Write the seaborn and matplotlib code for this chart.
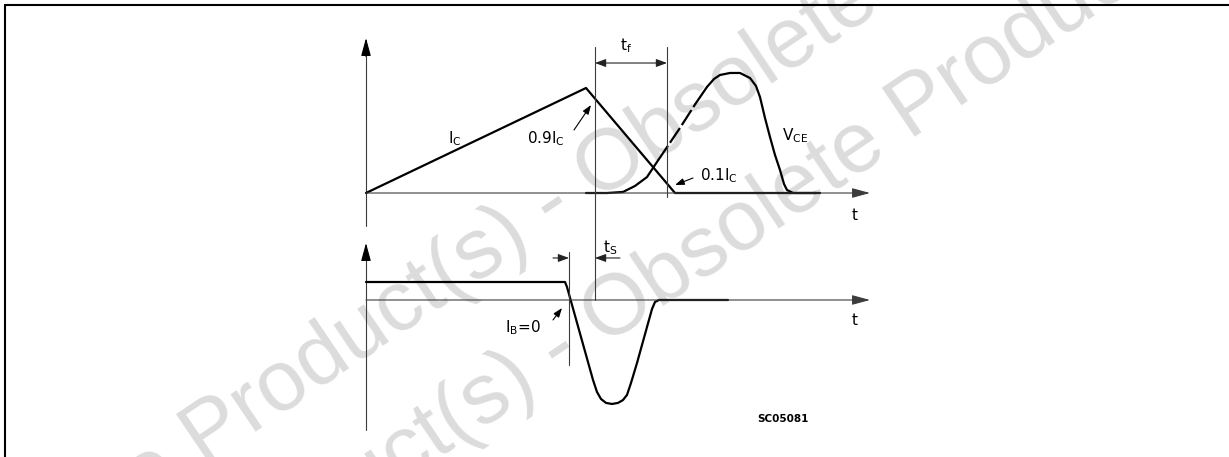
import numpy as np
import pandas as pd
import matplotlib
matplotlib.use("Agg")
import matplotlib.pyplot as plt
import seaborn as sns

# ---------------- data (arbitrary time units / normalised amplitudes) ----------------
# collector current I_C (top trace)
ic_t = [0.0, 44.0, 61.8, 90.0]
ic_v = [0.0, 1.0, 0.0, 0.0]

# collector-emitter voltage V_CE (top trace)
vce_t = [44.0, 48.2, 51.4, 53.8, 56.2, 58.4, 59.4, 62.8, 65.9, 68.2, 69.6, 70.8,
         72.8, 74.8, 76.8, 78.0, 78.8, 79.8, 80.8, 81.8, 82.8, 83.6, 84.2, 85.4, 90.8]
vce_v = [0.0, 0.0, 0.01, 0.067, 0.152, 0.31, 0.38, 0.62, 0.85, 1.01, 1.086, 1.124,
         1.143, 1.143, 1.095, 1.019, 0.914, 0.714, 0.533, 0.362, 0.219, 0.086, 0.029, 0.0, 0.0]
vce_dash_from, vce_dash_to = 58.4, 65.9   # uncertain (dashed) part of the V_CE rise

# base current I_B (bottom trace)
ib_t = [0.0, 39.8, 40.2, 45.4, 46.2, 47.0, 48.0, 49.2, 50.4, 51.4, 52.2, 53.0,
        54.2, 56.2, 57.2, 57.8, 58.6, 72.4]
ib_v = [0.173, 0.173, 0.125, -0.769, -0.885, -0.952, -0.990, -1.0, -0.990, -0.962,
        -0.913, -0.798, -0.606, -0.260, -0.087, -0.019, 0.0, 0.0]

# timing markers
t_09 = 45.8   # 0.9 I_C instant
t_01 = 60.2   # 0.1 I_C instant
t_ib0 = 40.6  # I_B = 0 instant

labels_top = ["$I_C$", "0.9$I_C$", "0.1$I_C$", "$V_{CE}$", "$t_f$", "t"]
labels_bot = ["$t_S$", "$I_B$=0", "t", "SC05081"]
watermark = "Obsolete Product(s) - Obsolete Product(s)"

# ---------------- style ----------------
sns.set_style("white")
plt.rcParams["font.family"] = ["DejaVu Sans"]
plt.rcParams["mathtext.default"] = "regular"

W, H = 1229, 457
fig = plt.figure(figsize=(W / 100, H / 100), dpi=100)
fig.patch.set_facecolor("white")

AX_COL = "#3c3c3c"
AX_LW = 0.8
WAVE_LW = 1.6
FS = 11

# watermark (behind everything)
for (px, py) in [(553, 205), (560, 350)]:
    fig.text(px / W, 1 - py / H, watermark, rotation=34, rotation_mode="anchor",
             ha="center", va="center", fontsize=62, color="#dcdcdc",
             family="Liberation Sans", zorder=-5)

# frame lines (top and left) of the figure box
fig.add_artist(plt.Line2D([5 / W, 1.0], [1 - 5 / H, 1 - 5 / H], color="black", lw=1.5,
                          transform=fig.transFigure))
fig.add_artist(plt.Line2D([5 / W, 5 / W], [0, 1 - 5 / H], color="black", lw=1.5,
                          transform=fig.transFigure))

ax_top = fig.add_axes([0, 0, 1, 1])
ax_bot = fig.add_axes([0, 0, 1, 1])
for ax in (ax_top, ax_bot):
    ax.set_facecolor("none")
    ax.axis("off")
    ax.set_xlim(-73.2, 172.6)
ax_top.set_ylim(-2.514, 1.838)
ax_bot.set_ylim(-1.510, 2.885)


def arrow(ax, start, tip, style="-|>,head_length=1.1,head_width=0.3", lw=AX_LW, col=AX_COL):
    ax.annotate("", xy=tip, xytext=start,
                arrowprops=dict(arrowstyle=style, color=col, lw=lw,
                                shrinkA=0, shrinkB=0))


# ---- top panel axes ----
ax_top.plot([0, 0], [-0.31, 1.3], color=AX_COL, lw=AX_LW)
arrow(ax_top, (0, 1.3), (0, 1.476), col="black")
arrow(ax_top, (0, 0), (100.8, 0))

# ---- bottom panel axes ----
ax_bot.plot([0, 0], [-1.25, 0.4], color=AX_COL, lw=AX_LW)
arrow(ax_bot, (0, 0.4), (0, 0.548), col="black")
arrow(ax_bot, (0, 0), (100.8, 0))

# ---- waveforms ----
sns.lineplot(x=ic_t, y=ic_v, ax=ax_top, color="black", linewidth=WAVE_LW,
             estimator=None, sort=False, legend=False)

vce = pd.DataFrame({"t": vce_t, "v": vce_v})
lower = vce[vce.t <= vce_dash_from]
mid = vce[(vce.t >= vce_dash_from) & (vce.t <= vce_dash_to)]
upper = vce[vce.t >= vce_dash_to]
sns.lineplot(data=lower, x="t", y="v", ax=ax_top, color="black", linewidth=WAVE_LW,
             estimator=None, sort=False, legend=False)
sns.lineplot(data=mid, x="t", y="v", ax=ax_top, color="black", linewidth=WAVE_LW,
             estimator=None, sort=False, legend=False, linestyle=(0, (8, 1.6)))
sns.lineplot(data=upper, x="t", y="v", ax=ax_top, color="black", linewidth=WAVE_LW,
             estimator=None, sort=False, legend=False)

sns.lineplot(x=ib_t, y=ib_v, ax=ax_bot, color="black", linewidth=WAVE_LW,
             estimator=None, sort=False, legend=False)

# ---- timing markers ----
ax_top.plot([t_09, t_09], [1.39, -1.019], color=AX_COL, lw=AX_LW)
ax_top.plot([t_01, t_01], [1.39, -0.038], color=AX_COL, lw=AX_LW)
arrow(ax_top, (t_09, 1.238), (t_01, 1.238), style="<|-|>,head_length=0.65,head_width=0.24",
      col="#222222")
ax_bot.plot([t_ib0, t_ib0], [0.462, -0.625], color=AX_COL, lw=AX_LW)
arrow(ax_bot, (37.4, 0.404), (t_ib0, 0.404), style="-|>,head_length=0.65,head_width=0.24",
      col="#222222")
arrow(ax_bot, (50.8, 0.404), (t_09, 0.404), style="-|>,head_length=0.65,head_width=0.24",
      col="#222222")

# pointer arrows
small = "-|>,head_length=0.55,head_width=0.2"
arrow(ax_top, (41.6, 0.60), (45.0, 0.838), style=small, col="black")
arrow(ax_top, (65.4, 0.143), (61.8, 0.076), style=small, col="black")
arrow(ax_bot, (37.4, -0.192), (39.2, -0.077), style=small, col="black")

# ---- labels ----
kw = dict(fontsize=FS, color="black", va="baseline")
ax_top.text(16.4, 0.476, labels_top[0], ha="left", **kw)
ax_top.text(32.2, 0.476, labels_top[1], ha="left", **kw)
ax_top.text(66.8, 0.124, labels_top[2], ha="left", **kw)
ax_top.text(83.2, 0.505, labels_top[3], ha="left", **kw)
ax_top.text(50.8, 1.362, labels_top[4], ha="left", **kw)
ax_top.text(97.8, -0.257, labels_top[5], ha="center", **kw)
ax_bot.text(47.4, 0.462, labels_bot[0], ha="left", **kw)
ax_bot.text(27.8, -0.308, labels_bot[1], ha="left", **kw)
ax_bot.text(97.8, -0.240, labels_bot[2], ha="center", **kw)
ax_bot.text(78.2, -1.173, labels_bot[3], ha="left", va="baseline", fontsize=7.5,
            fontweight="bold", color="black")

fig.savefig("out.png", dpi=100, facecolor="white")
